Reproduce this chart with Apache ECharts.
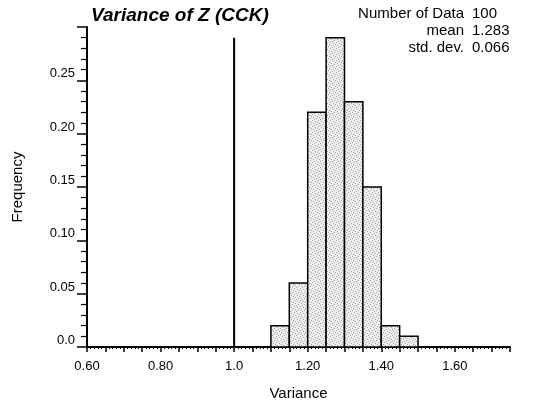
<!DOCTYPE html>
<html>
<head>
<meta charset="utf-8">
<script src="https://cdn.jsdelivr.net/npm/echarts@6/dist/echarts.min.js"></script>
<style>
html,body{margin:0;padding:0;background:#fff;}
#chart{width:533px;height:406px;}
</style>
</head>
<body>
<div id="chart"></div>
<script>
// ---- data ----
const titleText = 'Variance of Z (CCK)';
const xAxisName = 'Variance';
const yAxisName = 'Frequency';
const binStart = [1.10, 1.15, 1.20, 1.25, 1.30, 1.35, 1.40, 1.45];
const binWidth = 0.05;
const frequency = [0.02, 0.06, 0.22, 0.29, 0.23, 0.15, 0.02, 0.01];
const refLineX = 1.0;
const refLineTop = 0.29;
const statLabels = ['Number of Data', 'mean', 'std. dev.'];
const statValues = ['100', '1.283', '0.066'];
const xLabelTicks = [0.6, 0.8, 1.0, 1.2, 1.4, 1.6];
const xLabelTexts = ['0.60', '0.80', '1.0', '1.20', '1.40', '1.60'];

const FONT = 'Liberation Sans, Arial, sans-serif';
const histData = binStart.map((s, i) => [s, s + binWidth, frequency[i]]);

// deterministic stipple texture for bar fill
const pat = document.createElement('canvas');
pat.width = 6; pat.height = 6;
const pctx = pat.getContext('2d');
pctx.fillStyle = '#efefef';
pctx.fillRect(0, 0, 6, 6);
pctx.fillStyle = '#a0a0a0';
[[0,0],[3,1],[1,3],[4,4],[2,5],[5,2]].forEach(p => pctx.fillRect(p[0], p[1], 1, 1));

const chart = echarts.init(document.getElementById('chart'), null, {renderer: 'canvas'});

const graphics = [];
statLabels.forEach((t, i) => {
  graphics.push({type: 'text', right: 533 - 464, top: 6 + i * 17,
    style: {text: t, font: '15px ' + FONT, fill: '#000', textAlign: 'right'}});
  graphics.push({type: 'text', left: 472, top: 6 + i * 17,
    style: {text: statValues[i], font: '15px ' + FONT, fill: '#000'}});
});

chart.setOption({
  animation: false,
  backgroundColor: '#fff',
  title: {
    text: titleText, left: 86, top: 1,
    textStyle: {fontFamily: FONT, fontSize: 19, fontWeight: 'bold', fontStyle: 'italic', color: '#000'}
  },
  grid: {left: 87, right: 23, top: 27, bottom: 53},
  xAxis: {
    type: 'value', min: 0.6, max: 1.75, interval: 0.05,
    name: xAxisName, nameLocation: 'middle', nameGap: 39,
    nameTextStyle: {fontFamily: FONT, fontSize: 15, color: '#000'},
    axisLine: {lineStyle: {color: '#000', width: 2}},
    axisTick: {show: true, length: 5, lineStyle: {color: '#000', width: 1.5}},
    minorTick: {show: true, splitNumber: 5, length: 2, lineStyle: {color: '#000'}},
    splitLine: {show: false},
    axisLabel: {
      fontFamily: FONT, fontSize: 13, color: '#000', margin: 13, showMaxLabel: false,
      formatter: function (v) {
        for (let i = 0; i < xLabelTicks.length; i++) {
          if (Math.abs(v - xLabelTicks[i]) < 1e-6) return xLabelTexts[i];
        }
        return '';
      }
    }
  },
  yAxis: {
    type: 'value', min: 0, max: 0.30, interval: 0.05,
    name: yAxisName, nameLocation: 'middle', nameGap: 62, nameRotate: 90,
    nameTextStyle: {fontFamily: FONT, fontSize: 15, color: '#000'},
    axisLine: {show: true, lineStyle: {color: '#000', width: 2}},
    axisTick: {show: true, length: 10, lineStyle: {color: '#000', width: 1.5}},
    minorTick: {show: true, splitNumber: 5, length: 6, lineStyle: {color: '#000', width: 1.2}},
    splitLine: {show: false},
    axisLabel: {
      fontFamily: FONT, fontSize: 13, color: '#000', margin: 12, verticalAlign: 'bottom',
      formatter: function (v) {
        if (Math.abs(v) < 1e-9) return '0.0';
        if (Math.abs(v - 0.30) < 1e-6) return '';
        return v.toFixed(2);
      }
    }
  },
  graphic: graphics,
  series: [
    {
      type: 'custom',
      data: histData,
      renderItem: function (params, api) {
        const p0 = api.coord([api.value(0), api.value(2)]);
        const p1 = api.coord([api.value(1), 0]);
        return {
          type: 'rect',
          shape: {x: p0[0], y: p0[1], width: p1[0] - p0[0], height: p1[1] - p0[1]},
          style: {fill: {image: pat, repeat: 'repeat'}, stroke: '#000', lineWidth: 1.5}
        };
      },
      encode: {x: [0, 1], y: 2},
      z: 2
    },
    {
      type: 'line',
      data: [[refLineX, 0], [refLineX, refLineTop]],
      symbol: 'none',
      lineStyle: {color: '#000', width: 2},
      z: 3
    }
  ]
});
</script>
</body>
</html>
